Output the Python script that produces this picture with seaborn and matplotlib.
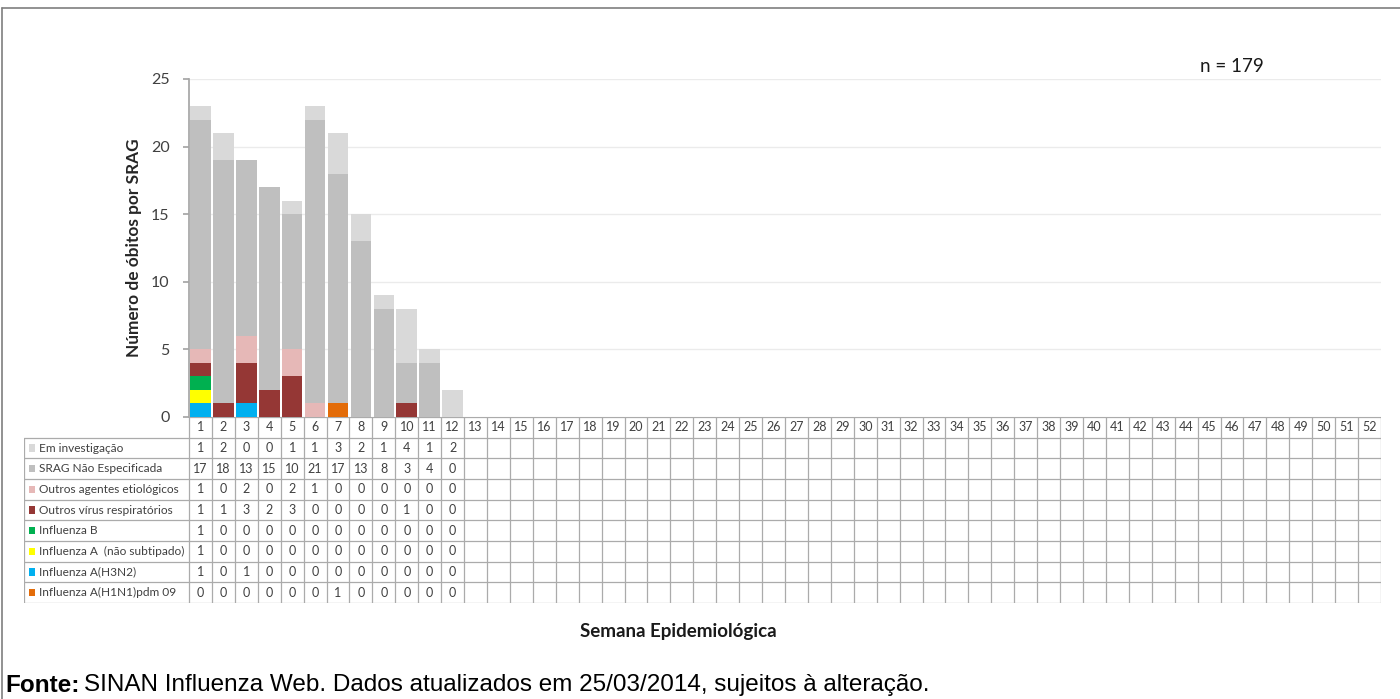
import numpy as np
import pandas as pd
import matplotlib
matplotlib.use("Agg")
import matplotlib.pyplot as plt
from matplotlib.patches import Rectangle
from matplotlib.lines import Line2D
import seaborn as sns

# ---- data ----
weeks = [str(w) for w in range(1, 53)]

h1n1 = [0, 0, 0, 0, 0, 0, 1, 0, 0, 0, 0, 0]
h3n2 = [1, 0, 1, 0, 0, 0, 0, 0, 0, 0, 0, 0]
inf_a_ns = [1, 0, 0, 0, 0, 0, 0, 0, 0, 0, 0, 0]
inf_b = [1, 0, 0, 0, 0, 0, 0, 0, 0, 0, 0, 0]
outros_virus = [1, 1, 3, 2, 3, 0, 0, 0, 0, 1, 0, 0]
outros_agentes = [1, 0, 2, 0, 2, 1, 0, 0, 0, 0, 0, 0]
srag_ne = [17, 18, 13, 15, 10, 21, 17, 13, 8, 3, 4, 0]
em_invest = [1, 2, 0, 0, 1, 1, 3, 2, 1, 4, 1, 2]

# stacking order, bottom -> top
layers = ['Influenza A(H1N1)pdm 09', 'Influenza A(H3N2)', 'Influenza A  (não subtipado)',
          'Influenza B', 'Outros vírus respiratórios', 'Outros agentes etiológicos',
          'SRAG Não Especificada', 'Em investigação']
values = [h1n1, h3n2, inf_a_ns, inf_b, outros_virus, outros_agentes, srag_ne, em_invest]
colors = ['#E36C09', '#00B0F0', '#FFFF00', '#00B050', '#953735', '#E6B8B7', '#BFBFBF', '#D9D9D9']

n_total = 179

# ---- figure ----
sns.set_theme(style="white")
plt.rcParams['font.family'] = ['Lato', 'DejaVu Sans']

W, H = 1400, 699
fig = plt.figure(figsize=(14, 6.99), dpi=100)

def px_box(x0, y0, x1, y1):
    return [x0 / W, 1 - y1 / H, (x1 - x0) / W, (y1 - y0) / H]

ax = fig.add_axes(px_box(189, 79, 1381, 417))

df = pd.DataFrame({lab: v + [0] * (52 - len(v)) for lab, v in zip(layers, values)}, index=weeks)
cum = df.cumsum(axis=1)

# overlay cumulative bars from top layer down
for lab, col in reversed(list(zip(layers, colors))):
    sns.barplot(x=weeks, y=cum[lab].values, order=weeks, color=col, saturation=1,
                width=0.9, errorbar=None, ax=ax, linewidth=0)

ax.set_xlim(-0.5, 51.5)
ax.set_ylim(0, 25)
ax.set_yticks([0, 5, 10, 15, 20, 25])
ax.yaxis.grid(True, color='#EBEBEB', linewidth=1)
ax.set_axisbelow(True)
ax.set_xticks([])
ax.set_xlabel('')
for s in ['top', 'right', 'bottom']:
    ax.spines[s].set_visible(False)
ax.spines['left'].set_color('#A6A6A6')
ax.tick_params(axis='y', left=True, length=4, color='#A6A6A6', labelsize=11.5,
               labelcolor='#404040', pad=10)
ax.set_ylabel('Número de óbitos por SRAG', fontsize=12.4, fontweight='bold', labelpad=6)

ax.text(1011 / 1192, 1 + 12 / 338, f'n = {n_total}', transform=ax.transAxes, fontsize=13.5,
        color='#1a1a1a', ha='left', va='center')

# ---- data table under the chart ----
tab = fig.add_axes(px_box(24, 417, 1381, 603))
unit = (1381 - 189) / 52
lab_w = (189 - 24) / unit
x_left = -0.5 - lab_w
tab.set_xlim(x_left, 51.5)
tab.set_ylim(9, 0)
tab.axis('off')

grid_c = '#ABABAB'
# horizontal lines
tab.add_line(Line2D([-0.5, 51.5], [0, 0], color=grid_c, lw=0.9))
for r in range(1, 10):
    tab.add_line(Line2D([x_left, 51.5], [r, r], color=grid_c, lw=0.9))
# vertical lines
for c in range(53):
    tab.add_line(Line2D([c - 0.5, c - 0.5], [0, 9], color=grid_c, lw=0.9))
tab.add_line(Line2D([x_left, x_left], [1, 9], color=grid_c, lw=0.9))

txt_c = '#404040'
for i, w in enumerate(weeks):
    tab.text(i, 0.5, w, ha='center', va='center', fontsize=9, color=txt_c)

rows = list(zip(layers, values, colors))[::-1]
for r, (lab, vals, col) in enumerate(rows, start=1):
    tab.add_patch(Rectangle((x_left + 0.2, r + 0.33), 0.3, 0.34, color=col, lw=0))
    tab.text(x_left + 0.65, r + 0.5, lab, ha='left', va='center', fontsize=8.6, color=txt_c)
    for i, v in enumerate(vals):
        tab.text(i, r + 0.5, str(v), ha='center', va='center', fontsize=9, color=txt_c)

fig.text(678 / W, 1 - 632 / H, 'Semana Epidemiológica', ha='center', va='center',
         fontsize=13.5, fontweight='bold', color='#1a1a1a')

t = fig.text(5 / W, 1 - 685 / H, 'Fonte:', fontsize=17.5, fontweight='bold', va='center',
             ha='left', family='Liberation Sans', color='black')
fig.canvas.draw()
bb = t.get_window_extent()
fig.text((bb.x1 + 5) / W, 1 - 685 / H,
         'SINAN Influenza Web. Dados atualizados em 25/03/2014, sujeitos à alteração.',
         fontsize=17.5, va='center', ha='left', family='Liberation Sans', color='black')

# outer frame (top and left edges visible)
fig.add_artist(Line2D([2 / W, 1], [1 - 8 / H, 1 - 8 / H], color='#7F7F7F', lw=1.2,
                      transform=fig.transFigure))
fig.add_artist(Line2D([2 / W, 2 / W], [0, 1 - 8 / H], color='#7F7F7F', lw=1.2,
                      transform=fig.transFigure))

fig.savefig('out.png', dpi=100)
